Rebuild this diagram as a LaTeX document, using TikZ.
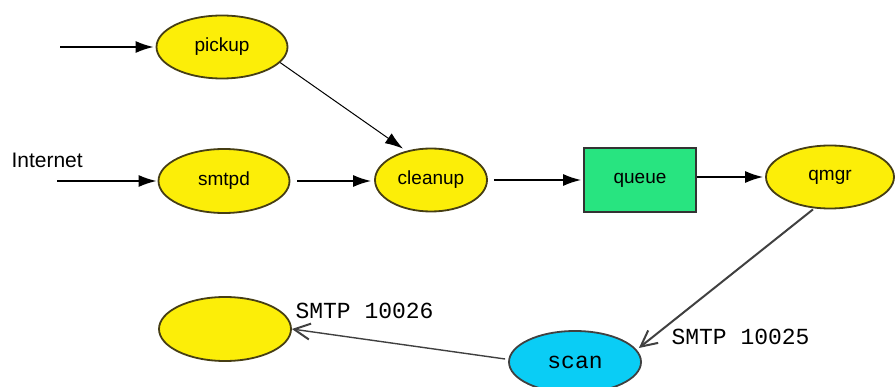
\documentclass[tikz,border=0pt]{standalone}
\usepackage{fontspec}
\setmainfont{Liberation Sans}
\newfontfamily\monof{Liberation Mono}
\usetikzlibrary{shapes.geometric,arrows.meta}
\definecolor{ylw}{RGB}{252,238,8}
\definecolor{ylwb}{RGB}{70,62,20}
\definecolor{grn}{RGB}{40,228,128}
\definecolor{cyn}{RGB}{10,205,245}
\begin{document}
\begin{tikzpicture}[x=1pt,y=-1pt,
  ell/.style={ellipse,draw=ylwb,line width=1.8pt,fill=ylw,minimum width=131pt,minimum height=63pt,inner sep=0pt,font=\fontsize{19}{21}\selectfont},
  arr/.style={-{Latex[length=18pt,width=12pt]},line width=1.6pt},
  oarr/.style={-{Straight Barb[length=16pt,width=16pt,line width=2pt]},line width=2pt},
  lbl/.style={font=\monof\fontsize{23}{25}\selectfont}]
\useasboundingbox (0,0) rectangle (896,387);
\node[ell] (pickup) at (222,47) {pickup};
\node[ell,minimum height=64pt] (smtpd) at (224,181) {smtpd};
\node[ell,minimum width=112pt,minimum height=63pt] (cleanup) at (431,180) {cleanup};
\node[draw=black!80,line width=1.8pt,fill=grn,minimum width=112pt,minimum height=64pt,inner sep=0pt,font=\fontsize{19}{21}\selectfont] (queue) at (640,180) {queue};
\node[ell,minimum width=128pt,minimum height=63pt] (qmgr) at (830,177) {qmgr};
\node[ell,draw=black!75,fill=cyn,minimum width=132pt,minimum height=62pt,font=\monof\fontsize{23}{25}\selectfont] (scan) at (575,362) {scan};
\node[ell,minimum width=132pt,minimum height=64pt] (blank) at (225,329) {};
\coordinate (in1) at (60,47);
\coordinate (in2) at (57,181);
\node[anchor=west,font=\fontsize{21}{23}\selectfont] (internet) at (8,160) {Internet};
\draw[arr] (in1) -- ([xshift=-2pt]pickup.west);
\draw[arr] (in2) -- ([xshift=-1pt]smtpd.west);
\draw[arr,line width=1pt] (pickup.-15) -- ([xshift=-28pt,yshift=-1pt]cleanup.north);
\draw[arr] ([xshift=7pt]smtpd.east) -- ([xshift=-3pt]smtpd.east -| cleanup.west);
\draw[arr] ([xshift=6pt]cleanup.east) -- ([xshift=-2pt]queue.west);
\draw[arr] (queue.east |- qmgr.west) -- ([xshift=-2pt]qmgr.west);
\draw[oarr,draw=black!75] ([xshift=-17pt]qmgr.south) -- ([xshift=-3pt,yshift=14pt]scan.east);
\draw[oarr,draw=black!75,line width=1.4pt] ([xshift=-3pt,yshift=3pt]scan.west) -- (blank.east);
\node[lbl,anchor=west] (l26) at (292,311) {SMTP 10026};
\node[lbl,anchor=west] (l25) at (668,337) {SMTP 10025};
\end{tikzpicture}
\end{document}
